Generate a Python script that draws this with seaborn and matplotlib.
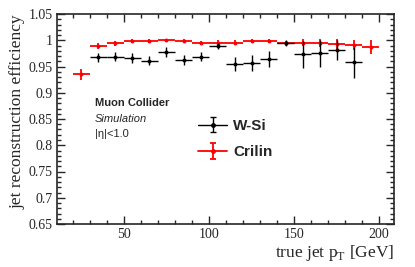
import numpy as np
import pandas as pd
import seaborn as sns
import matplotlib.pyplot as plt
from matplotlib.lines import Line2D
from matplotlib.ticker import MultipleLocator

# datos
pt_crilin = [25, 35, 45, 55, 65, 75, 85, 95, 105, 115, 125, 135, 145, 155, 165, 175, 185, 195]
eff_crilin = [0.935, 0.989, 0.994, 0.999, 0.9986, 1.0, 0.9995, 0.995, 0.9957, 0.9957,
              0.999, 0.9986, 0.9942, 0.9957, 0.9945, 0.993, 0.991, 0.9877]
err_crilin = [0.010, 0.005, 0.005, 0.004, 0.003, 0.003, 0.003, 0.004, 0.004, 0.004,
              0.003, 0.003, 0.005, 0.006, 0.007, 0.009, 0.010, 0.013]

pt_wsi = [35, 45, 55, 65, 75, 85, 95, 105, 115, 125, 135, 145, 155, 165, 175, 185]
eff_wsi = [0.9675, 0.9687, 0.967, 0.9614, 0.9776, 0.9624, 0.9687, 0.9896, 0.9548, 0.9567,
           0.9643, 0.9953, 0.9729, 0.9751, 0.9814, 0.958]
err_wsi = [0.009, 0.009, 0.0095, 0.009, 0.009, 0.009, 0.009, 0.006, 0.014, 0.015,
           0.016, 0.006, 0.026, 0.026, 0.019, 0.029]

bin_half = 5

sns.set_style("ticks")
plt.rcParams['font.family'] = ['Liberation Serif', 'DejaVu Serif']
plt.rcParams['mathtext.fontset'] = 'custom'
plt.rcParams['mathtext.rm'] = 'Liberation Serif'

fig = plt.figure(figsize=(4.15, 2.67), dpi=100)
ax = fig.add_axes([57 / 415, 1 - 224 / 267, (394 - 57) / 415, (224 - 14) / 267])

df_c = pd.DataFrame({"pt": pt_crilin, "eff": eff_crilin, "err": err_crilin})
df_w = pd.DataFrame({"pt": pt_wsi, "eff": eff_wsi, "err": err_wsi})

# Crilin (rojo) primero, W-Si encima
ax.errorbar(df_c["pt"], df_c["eff"], yerr=df_c["err"], xerr=bin_half,
            fmt="none", ecolor="red", elinewidth=1.3, zorder=2)
sns.scatterplot(data=df_c, x="pt", y="eff", color="red", s=8, edgecolor="red",
                linewidth=0, ax=ax, zorder=3)
ax.errorbar(df_w["pt"], df_w["eff"], yerr=df_w["err"], xerr=bin_half,
            fmt="none", ecolor="black", elinewidth=1.0, zorder=4)
sns.scatterplot(data=df_w, x="pt", y="eff", color="black", s=8, edgecolor="black",
                linewidth=0, ax=ax, zorder=5)

# entradas de leyenda con remates solo en vertical (estilo ROOT)
def legend_handle(color, lw):
    hline = Line2D([], [], color=color, lw=lw)
    vbar = ax.errorbar([np.nan], [np.nan], yerr=[1], fmt="o", ms=2.5, color=color,
                       elinewidth=lw, capsize=2.5, capthick=lw)
    return (hline, vbar)

h_w = legend_handle("black", 1.0)
h_c = legend_handle("red", 1.3)

ax.set_xlim(10.6, 208.8)
ax.set_ylim(0.65, 1.05)
ax.xaxis.set_major_locator(MultipleLocator(50))
ax.xaxis.set_minor_locator(MultipleLocator(10))
ax.yaxis.set_minor_locator(MultipleLocator(0.01))
ax.set_yticks([0.65, 0.7, 0.75, 0.8, 0.85, 0.9, 0.95, 1.0, 1.05])
ax.set_yticklabels(["0.65", "0.7", "0.75", "0.8", "0.85", "0.9", "0.95", "1", "1.05"])
ax.tick_params(which="both", direction="in", top=True, right=True, labelsize=10, pad=3)
ax.tick_params(which="major", length=6, width=1)
ax.tick_params(which="minor", length=3, width=1)
for s in ax.spines.values():
    s.set_linewidth(1.2)

ax.set_xlabel(r"true jet p$_{\mathrm{T}}$ [GeV]", fontsize=12.5, loc="right", labelpad=1)
ax.set_ylabel("jet reconstruction efficiency", fontsize=12.5, loc="top", labelpad=2)

sans = ['Liberation Sans', 'DejaVu Sans']
fig.text(95 / 415, 1 - 103 / 267, "Muon Collider", fontsize=8, fontweight="bold",
         family=sans, va="center")
fig.text(95 / 415, 1 - 119 / 267, "Simulation", fontsize=8, style="italic",
         family=sans, va="center")
fig.text(95 / 415, 1 - 134 / 267, "|η|<1.0", fontsize=8, family=sans, va="center")

leg = ax.legend([h_w, h_c], ["W-Si", "Crilin"], loc="upper left",
                bbox_to_anchor=(198 / 415, 1 - 119 / 267), bbox_transform=fig.transFigure,
                frameon=False, prop={"family": sans, "weight": "bold", "size": 11},
                handlelength=1.9, handletextpad=0.4, labelspacing=0.8, borderpad=0,
                borderaxespad=0)

fig.savefig("out.png", dpi=100)
